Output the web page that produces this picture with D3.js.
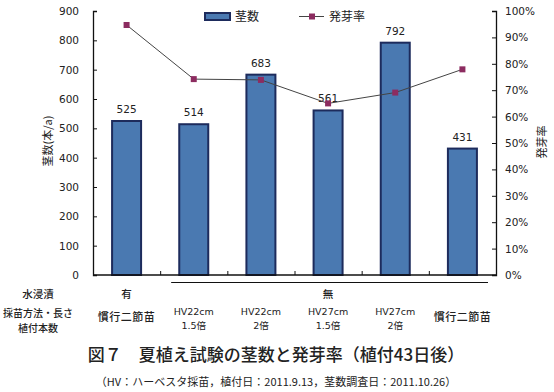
<!DOCTYPE html>
<html><head><meta charset="utf-8">
<script src="https://cdn.jsdelivr.net/npm/d3@7"></script>
<style>
body{margin:0;background:#fff;}
text{font-family:"DejaVu Sans","Noto Sans CJK JP",sans-serif;fill:#222;}
.cjk{font-family:"Noto Sans CJK JP",sans-serif;}
</style></head>
<body><svg id="c" width="554" height="392"></svg>
<script>
const categories = ["c1","c2","c3","c4","c5","c6"];
const methodLabels = ["慣行二節苗","HV22cm","HV22cm","HV27cm","HV27cm","慣行二節苗"];
const countLabels = ["","1.5倍","2倍","1.5倍","2倍",""];
const stems = [525,514,683,561,792,431];
const germRate = [94.7,74.2,73.9,65.0,69.1,77.9];
const soakGroups = [{label:"有", from:0, to:0, line:false},{label:"無", from:1, to:5, line:true}];
const leftTicks = [0,100,200,300,400,500,600,700,800,900];
const rightTicks = [0,10,20,30,40,50,60,70,80,90,100];
const rowLabels = ["水浸漬","採苗方法・長さ","植付本数"];
const seriesNames = ["茎数","発芽率"];
const title = "図７　夏植え試験の茎数と発芽率（植付43日後）";
const subtitle = "（HV：ハーベスタ採苗，植付日：2011.9.13，茎数調査日：2011.10.26）";

const svg = d3.select("#c");
const L=93, R=496, T=11, B=275;
const x = d3.scaleBand().domain(categories).range([L,R]);
const yL = d3.scaleLinear().domain([0,900]).range([B,T]);
const yR = d3.scaleLinear().domain([0,100]).range([B,T]);

// bars
svg.selectAll("rect.bar").data(stems).enter().append("rect")
  .attr("x",(d,i)=>x(categories[i])+x.bandwidth()/2-14.5)
  .attr("width",29)
  .attr("y",d=>yL(d)).attr("height",d=>B-yL(d))
  .attr("fill","#4a79b1").attr("stroke","#1d2b5c").attr("stroke-width",2);

// bar labels
svg.selectAll("text.bl").data(stems).enter().append("text")
  .attr("x",(d,i)=>x(categories[i])+x.bandwidth()/2)
  .attr("y",d=>yL(d)-8).attr("text-anchor","middle")
  .attr("font-size","10.5px").text(d=>d);

// axes
const axL = d3.axisRight(yL).tickValues(leftTicks).tickSize(4).tickFormat(d=>d);
const gL = svg.append("g").attr("transform",`translate(${L},0)`).call(axL);
gL.selectAll("text").remove();
svg.selectAll("text.lt").data(leftTicks).enter().append("text")
  .attr("x",79).attr("y",d=>yL(d)+4).attr("text-anchor","end")
  .attr("font-size","10.5px").text(d=>d);

const axR = d3.axisLeft(yR).tickValues(rightTicks).tickSize(4);
const gR = svg.append("g").attr("transform",`translate(${R},0)`).call(axR);
gR.selectAll("text").remove();
svg.selectAll("text.rt").data(rightTicks).enter().append("text")
  .attr("x",505).attr("y",d=>yR(d)+4).attr("text-anchor","start")
  .attr("font-size","10.5px").text(d=>d+"%");

const axB = d3.axisTop(d3.scaleLinear().domain([0,6]).range([L,R])).tickValues([1,2,3,4,5]).tickSize(4).tickFormat("");
const gB = svg.append("g").attr("transform",`translate(0,${B})`).call(axB);
gB.select(".domain").remove();
svg.append("line").attr("x1",L).attr("x2",R).attr("y1",B).attr("y2",B).attr("stroke","#111").attr("stroke-width",1.3);
[gL,gR,gB].forEach(g=>{g.selectAll("line").attr("stroke","#111"); g.select(".domain").attr("stroke","#111").attr("stroke-width",1.3);});

// line
const lineGen = d3.line().x((d,i)=>x(categories[i])+x.bandwidth()/2).y(d=>yR(d));
svg.append("path").datum(germRate).attr("d",lineGen).attr("fill","none").attr("stroke","#444").attr("stroke-width",1);
svg.selectAll("rect.mk").data(germRate).enter().append("rect")
  .attr("x",(d,i)=>x(categories[i])+x.bandwidth()/2-3).attr("y",d=>yR(d)-3)
  .attr("width",6).attr("height",6).attr("fill","#8c2c60");

// axis titles
svg.append("text").attr("class","cjk").attr("transform","translate(52,141) rotate(-90)")
  .attr("text-anchor","middle").attr("font-size","11px").text("茎数(本/a)");
svg.append("text").attr("class","cjk").attr("transform","translate(546,142) rotate(-90)")
  .attr("text-anchor","middle").attr("font-size","11px").text(seriesNames[1]);

// legend
svg.append("rect").attr("x",205).attr("y",13).attr("width",25).attr("height",7)
  .attr("fill","#4a79b1").attr("stroke","#1d2b5c").attr("stroke-width",2);
svg.append("text").attr("class","cjk").attr("x",235).attr("y",21).attr("font-size","12px").text(seriesNames[0]);
svg.append("line").attr("x1",299).attr("x2",324).attr("y1",16.5).attr("y2",16.5).attr("stroke","#444");
svg.append("rect").attr("x",309).attr("y",13.5).attr("width",6).attr("height",6).attr("fill","#8c2c60");
svg.append("text").attr("class","cjk").attr("x",329).attr("y",21).attr("font-size","12px").text(seriesNames[1]);

// category labels
const cx = i=>x(categories[i])+x.bandwidth()/2;
soakGroups.forEach(g=>{
  const mx=(cx(g.from)+cx(g.to))/2;
  svg.append("text").attr("class","cjk").attr("x",mx).attr("y",298).attr("text-anchor","middle").attr("font-size","10.5px").attr("font-weight","500").text(g.label);
  if(g.line){
    svg.append("line").attr("x1",x(categories[g.from])+11).attr("x2",R-8).attr("y1",282.5).attr("y2",282.5).attr("stroke","#111").attr("stroke-width",1);
  }
});
methodLabels.forEach((m,i)=>{
  if(countLabels[i]){
    svg.append("text").attr("x",cx(i)).attr("y",314.5).attr("text-anchor","middle").attr("font-size","9.5px").text(m);
    svg.append("text").attr("x",cx(i)).attr("y",329).attr("text-anchor","middle").attr("font-size","9.5px").text(countLabels[i]);
  } else {
    svg.append("text").attr("class","cjk").attr("x",cx(i)).attr("y",321).attr("text-anchor","middle").attr("font-size","11px").attr("font-weight","500").attr("letter-spacing","0.5px").text(m);
  }
});
svg.append("text").attr("class","cjk").attr("x",38).attr("y",298).attr("text-anchor","middle").attr("font-size","10.5px").attr("font-weight","500").text(rowLabels[0]);
svg.append("text").attr("class","cjk").attr("x",38).attr("y",317).attr("text-anchor","middle").attr("font-size","10px").attr("font-weight","500").text(rowLabels[1]);
svg.append("text").attr("class","cjk").attr("x",38).attr("y",331.5).attr("text-anchor","middle").attr("font-size","10px").attr("font-weight","500").text(rowLabels[2]);

// titles
svg.append("text").attr("class","cjk").attr("x",276).attr("y",361).attr("text-anchor","middle").attr("font-size","17px").attr("font-weight","500").text(title);
svg.append("text").attr("class","cjk").attr("x",276).attr("y",386).attr("text-anchor","middle").attr("font-size","11px").attr("fill","#333").text(subtitle);
</script></body></html>
